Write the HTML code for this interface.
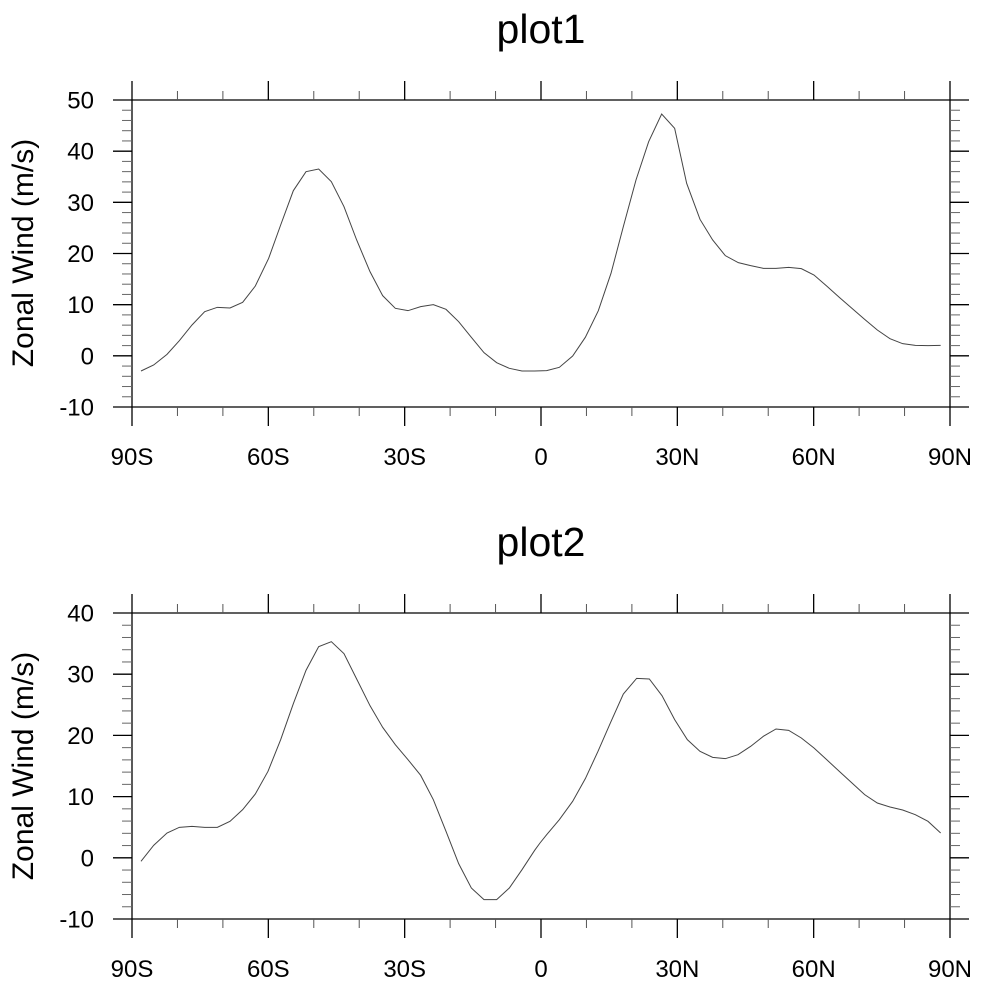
<!DOCTYPE html>
<html><head><meta charset="utf-8"><style>
html,body{margin:0;padding:0;background:#fff;}
svg{display:block;font-family:"Liberation Sans",sans-serif;}
</style></head><body>
<svg id="s" width="981" height="985" viewBox="0 0 981 985" xmlns="http://www.w3.org/2000/svg">
<text x="541" y="43" font-size="41" text-anchor="middle">plot1</text>
<text x="541" y="556" font-size="41" text-anchor="middle">plot2</text>
<text transform="translate(33,253) rotate(-90)" font-size="30" text-anchor="middle">Zonal Wind (m/s)</text>
<text transform="translate(33,766) rotate(-90)" font-size="30" text-anchor="middle">Zonal Wind (m/s)</text>
<g transform="translate(132,100) scale(0.33333)">
<polyline fill="none" stroke="#444" stroke-width="1" vector-effect="non-scaling-stroke" points="27,813 65,795 105,763 142,722 180,675 218,635 256,622 294,624 332,607 370,558 410,475 446,375 484,272 522,215 560,207 598,245 636,320 674,420 714,515 752,587 790,625 828,632 866,620 904,614 942,628 980,665 1018,712 1056,758 1094,788 1132,805 1170,813 1208,813 1244,812 1282,802 1322,768 1360,712 1399,632 1437,520 1474,380 1512,240 1550,125 1589,42 1628,85 1664,250 1704,358 1742,420 1780,467 1819,488 1856,497 1894,505 1932,505 1970,502 2008,506 2046,525 2084,558 2122,592 2160,625 2198,658 2236,690 2274,716 2312,731 2350,736 2388,737 2426,736"/>
</g>
<g transform="translate(132,613) scale(0.33333)">
<polyline fill="none" stroke="#444" stroke-width="1" vector-effect="non-scaling-stroke" points="27,745 65,697 105,660 142,643 180,640 218,643 256,643 294,625 332,590 370,543 408,475 446,380 484,272 522,172 560,101 598,86 636,122 674,198 714,278 752,343 790,395 828,440 866,487 904,560 942,655 980,752 1018,825 1056,860 1094,860 1132,825 1170,770 1208,712 1224,690 1244,665 1282,620 1322,565 1360,497 1398,415 1436,328 1474,243 1514,196 1552,198 1590,248 1628,320 1666,380 1704,415 1742,433 1780,437 1818,425 1856,400 1894,370 1932,348 1970,352 2008,375 2046,405 2084,440 2122,475 2160,510 2198,545 2236,570 2274,582 2312,591 2350,605 2388,625 2426,660"/>
</g>
<g id="ax"></g>
</svg>
<script>
(function(){
var NS="http://www.w3.org/2000/svg",g=document.getElementById("ax");
function ln(x1,y1,x2,y2,c){var l=document.createElementNS(NS,"line");l.setAttribute("x1",x1);l.setAttribute("y1",y1);l.setAttribute("x2",x2);l.setAttribute("y2",y2);l.setAttribute("stroke",c||"#000");l.setAttribute("stroke-width",c?1:1.3);g.appendChild(l);}
function tx(x,y,s,a){var t=document.createElementNS(NS,"text");t.setAttribute("x",x);t.setAttribute("y",y);t.setAttribute("font-size",24);t.setAttribute("text-anchor",a);t.textContent=s;g.appendChild(t);}
var L=132,R=950;
function panel(T,B,ymax,ymin){
 ln(L,T,R,T);ln(L,B,R,B);ln(L,T,L,B);ln(R,T,R,B);
 var labs=["90S","60S","30S","0","30N","60N","90N"];
 for(var d=0;d<=180;d+=10){var x=L+(R-L)*d/180;
  if(d%30==0){ln(x,T,x,T-19);ln(x,B,x,B+19);tx(x,B+58,labs[d/30],"middle");}
  else{ln(x,T,x,T-9,"#555");ln(x,B,x,B+9,"#555");}}
 for(var v=ymin;v<=ymax;v+=2){var y=B-(B-T)*(v-ymin)/(ymax-ymin);
  if(v%10==0){ln(L,y,L-19,y);ln(R,y,R+19,y);tx(94,y+8.5,String(v),"end");}
  else{ln(L,y,L-10,y,"#666");ln(R,y,R+10,y,"#666");}}
}
panel(100,407,50,-10);
panel(613,919,40,-10);
})();
</script>
</body></html>
